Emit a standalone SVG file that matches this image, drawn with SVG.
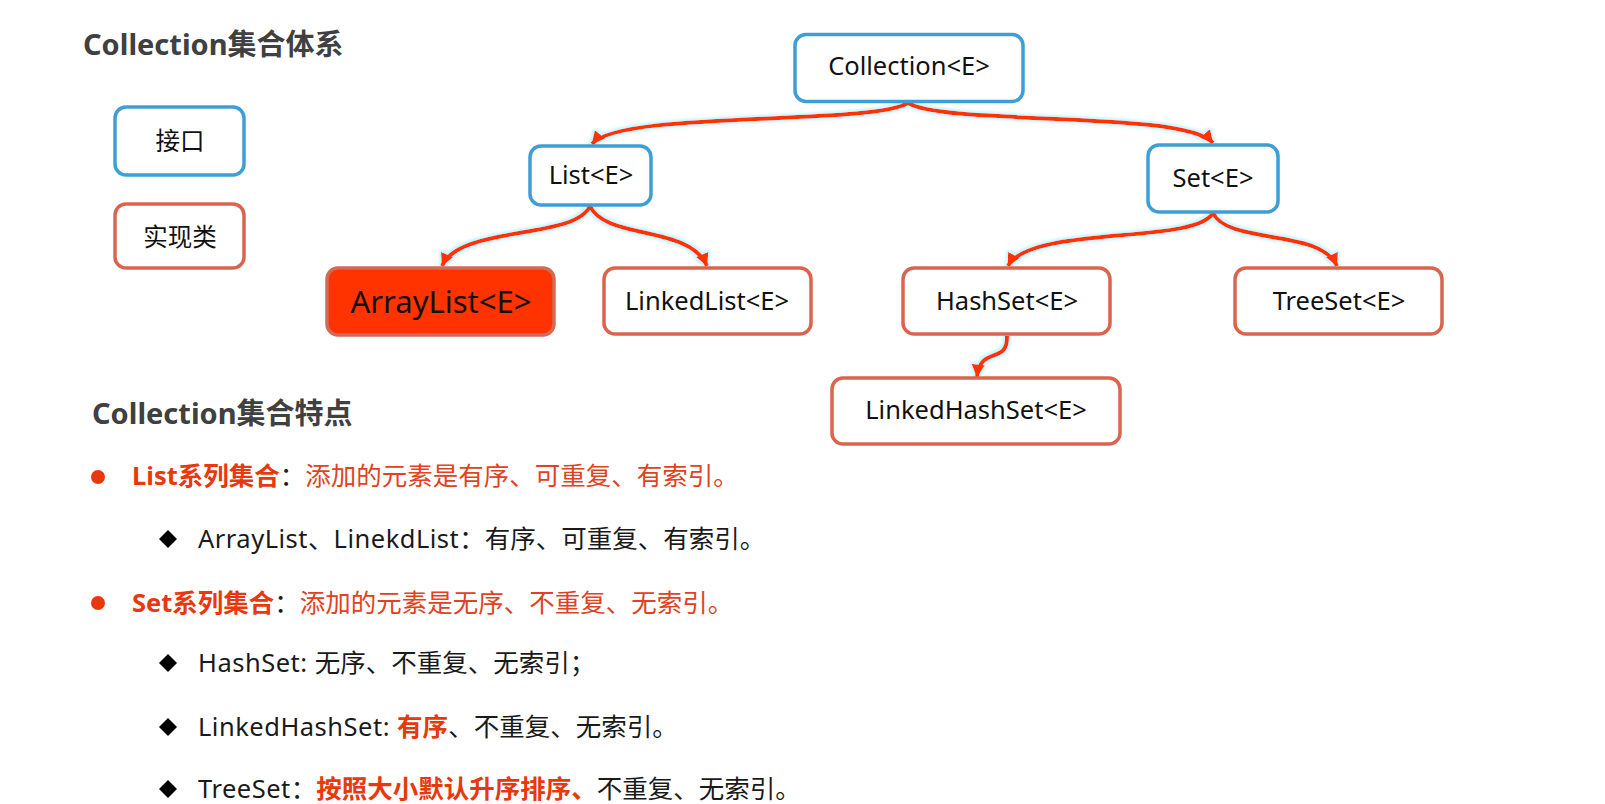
<svg xmlns="http://www.w3.org/2000/svg" width="1605" height="804" viewBox="0 0 1605 804">
<style>
  text { font-family: "Noto Sans", "Noto Sans CJK SC", sans-serif; }
  .title { font-size: 29px; font-weight: bold; fill: #404040; }
  .node { font-size: 25.5px; fill: #111; text-anchor: middle; }
  .big { font-size: 31px; }
  .legend { font-size: 24.5px; fill: #111; text-anchor: middle; }
  .iface { fill: #fff; stroke: #3d9fd6; stroke-width: 3.5; }
  .impl { fill: #fff; stroke: #d9654e; stroke-width: 3.5; }
  .hot { fill: #ff3300; stroke: #d26a55; stroke-width: 3.5; }
  .conn { fill: none; stroke: #ff3300; stroke-width: 4; marker-end: url(#arr); }
  .body { font-size: 25.5px; fill: #1a1a1a; }
  .lat { letter-spacing: 0.5px; }
  .rb { font-weight: bold; fill: #e8380d; }
  .rn { fill: #e04222; }
  .dot { fill: #e8380d; }
  .dia { fill: #000; }
</style>
<defs>
  <marker id="arr" viewBox="0 0 10 10" refX="9.5" refY="5" markerWidth="3.3" markerHeight="3.3" orient="auto" markerUnits="strokeWidth">
    <path d="M0,0 L10,5 L0,10 z" fill="#ff3300"/>
  </marker>
  <filter id="halo" filterUnits="userSpaceOnUse" x="0" y="0" width="1605" height="804">
    <feMorphology in="SourceAlpha" operator="dilate" radius="2" result="d"/>
    <feGaussianBlur in="d" stdDeviation="1" result="b"/>
    <feFlood flood-color="#bdf3ff" flood-opacity="0.8"/>
    <feComposite in2="b" operator="in" result="h"/>
    <feMerge><feMergeNode in="h"/><feMergeNode in="SourceGraphic"/></feMerge>
  </filter>
</defs>
<rect x="0" y="0" width="1605" height="804" fill="#fff"/>

<text class="title" x="83" y="55">Collection集合体系</text>

<g id="legend-interface">
  <rect class="iface" x="115" y="107" width="129" height="68" rx="11"/>
  <text class="legend" x="180" y="150">接口</text>
</g>
<g id="legend-impl">
  <rect class="impl" x="115" y="204" width="129" height="64" rx="11"/>
  <text class="legend" x="180" y="246">实现类</text>
</g>

<g id="connectors" filter="url(#halo)">
  <path class="conn" d="M908,103 C870,126 620,110 592,144"/>
  <path class="conn" d="M908,103 C946,126 1185,110 1213,143"/>
  <path class="conn" d="M590,206 C575,240 460,225 442,266"/>
  <path class="conn" d="M590,206 C605,240 690,225 707,266"/>
  <path class="conn" d="M1213,213 C1195,245 1030,225 1008,266"/>
  <path class="conn" d="M1213,213 C1228,245 1320,228 1337,266"/>
  <path class="conn" d="M1007,336 C1008,365 980,345 977,377"/>
</g>

<g id="collection">
  <rect class="iface" x="795" y="34.5" width="228" height="67" rx="11"/>
  <text class="node" x="909" y="75">Collection&lt;E&gt;</text>
</g>
<g id="list">
  <rect class="iface" x="530" y="146" width="121" height="59" rx="11"/>
  <text class="node" x="591" y="184">List&lt;E&gt;</text>
</g>
<g id="set">
  <rect class="iface" x="1148" y="145" width="130" height="67" rx="11"/>
  <text class="node" x="1213" y="187">Set&lt;E&gt;</text>
</g>
<g id="arraylist">
  <rect class="hot" x="327" y="268" width="227" height="67" rx="11"/>
  <text class="node big" x="441" y="313">ArrayList&lt;E&gt;</text>
</g>
<g id="linkedlist">
  <rect class="impl" x="604" y="268" width="207" height="66" rx="11"/>
  <text class="node" x="707" y="310">LinkedList&lt;E&gt;</text>
</g>
<g id="hashset">
  <rect class="impl" x="903" y="268" width="207" height="66" rx="11"/>
  <text class="node" x="1007" y="310">HashSet&lt;E&gt;</text>
</g>
<g id="treeset">
  <rect class="impl" x="1235" y="268" width="207" height="66" rx="11"/>
  <text class="node" x="1339" y="310">TreeSet&lt;E&gt;</text>
</g>
<g id="linkedhashset">
  <rect class="impl" x="832" y="378" width="288" height="66" rx="11"/>
  <text class="node" x="976" y="419">LinkedHashSet&lt;E&gt;</text>
</g>

<text class="title" x="92" y="424">Collection集合特点</text>

<circle class="dot" cx="98" cy="477" r="7"/>
<text class="body" x="132" y="485"><tspan class="rb">List系列集合</tspan><tspan>：</tspan><tspan class="rn">添加的元素是有序、可重复、有索引。</tspan></text>

<polygon class="dia" points="168,530 177,539 168,548 159,539"/>
<text class="body" x="198" y="548"><tspan class="lat">ArrayList</tspan>、<tspan class="lat">LinekdList</tspan>：有序、可重复、有索引。</text>

<circle class="dot" cx="98" cy="603" r="7"/>
<text class="body" x="132" y="612"><tspan class="rb">Set系列集合</tspan><tspan>：</tspan><tspan class="rn">添加的元素是无序、不重复、无索引。</tspan></text>

<polygon class="dia" points="168,654 177,663 168,672 159,663"/>
<text class="body" x="198" y="672"><tspan class="lat">HashSet: </tspan>无序、不重复、无索引；</text>

<polygon class="dia" points="168,718 177,727 168,736 159,727"/>
<text class="body" x="198" y="736"><tspan class="lat">LinkedHashSet: </tspan><tspan class="rb">有序</tspan>、不重复、无索引。</text>

<polygon class="dia" points="168,780 177,789 168,798 159,789"/>
<text class="body" x="198" y="798"><tspan class="lat">TreeSet</tspan>：<tspan class="rb">按照大小默认升序排序、</tspan>不重复、无索引。</text>
</svg>
